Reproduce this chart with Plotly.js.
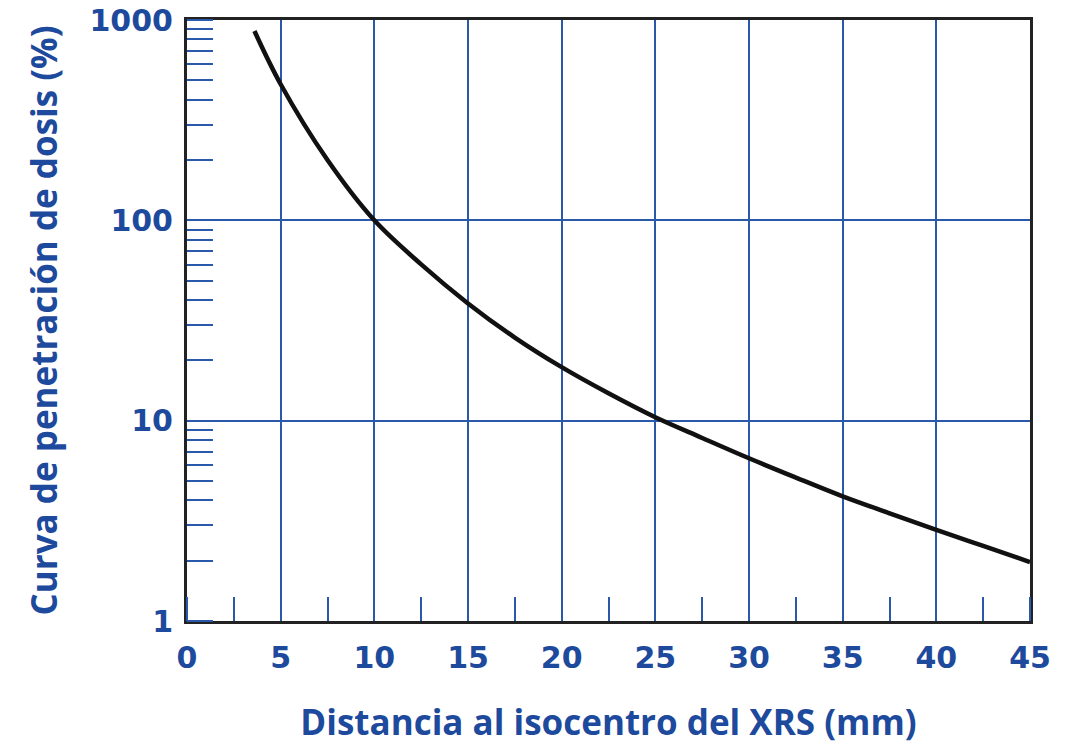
<!DOCTYPE html>
<html>
<head>
<meta charset="utf-8">
<script src="https://cdn.plot.ly/plotly-3.0.1.min.js"></script>
<style>html,body{margin:0;padding:0;background:#fff;}#chart{width:1079px;height:745px;}</style>
</head>
<body>
<div id="chart"></div>
<script>
const distance_mm = [3.6, 5, 7.5, 10, 12.5, 15, 17.5, 20, 22.5, 25, 27.5, 30, 32.5, 35, 37.5, 40, 42.5, 45];
const dose_pct = [881, 478, 200, 100, 60.3, 38.5, 26.0, 18.5, 13.7, 10.4, 8.2, 6.49, 5.2, 4.19, 3.45, 2.85, 2.37, 1.97];
const xTickVals = [0, 5, 10, 15, 20, 25, 30, 35, 40, 45];
const yTickVals = [1, 10, 100, 1000];
const yTickText = ["1", "10", "100", "1000"];

const blue = "#1d4a9c";
const gridBlue = "#2a58aa";
const titleFont = "Open Sans, Noto Sans, sans-serif";
const tickFont = "DejaVu Sans, sans-serif";

const trace = {
  x: distance_mm,
  y: dose_pct,
  type: "scatter",
  mode: "lines",
  line: {color: "#111111", width: 4.5, shape: "spline", smoothing: 1},
  hoverinfo: "x+y"
};

const layout = {
  width: 1079,
  height: 745,
  margin: {l: 187, r: 49, t: 20, b: 124},
  paper_bgcolor: "#ffffff",
  plot_bgcolor: "#ffffff",
  showlegend: false,
  font: {family: titleFont, color: blue},
  xaxis: {
    range: [0, 45],
    tickvals: xTickVals,
    ticks: "",
    ticklabelstandoff: 8,
    tickfont: {family: tickFont, size: 30, color: blue, weight: "bold"},
    showgrid: true,
    gridcolor: gridBlue,
    gridwidth: 2,
    zeroline: false,
    showline: true,
    linecolor: "#222222",
    linewidth: 3,
    mirror: true,
    minor: {dtick: 2.5, ticks: "inside", ticklen: 24, tickwidth: 2, tickcolor: gridBlue, showgrid: false},
    title: {text: "Distancia al isocentro del XRS (mm)", standoff: 38, font: {family: titleFont, size: 35, color: blue, weight: "bold"}}
  },
  yaxis: {
    type: "log",
    range: [0, 3.0002],
    tickvals: yTickVals,
    ticktext: yTickText,
    ticks: "",
    ticklabelstandoff: 5,
    tickfont: {family: tickFont, size: 30, color: blue, weight: "bold"},
    showgrid: true,
    gridcolor: gridBlue,
    gridwidth: 2,
    zeroline: false,
    showline: true,
    linecolor: "#222222",
    linewidth: 3,
    mirror: true,
    minor: {dtick: "D1", ticks: "inside", ticklen: 26, tickwidth: 2, tickcolor: gridBlue, showgrid: false},
    title: {text: "Curva de penetración de dosis (%)", standoff: 22, font: {family: titleFont, size: 35, color: blue, weight: "bold"}}
  }
};

Plotly.newPlot("chart", [trace], layout, {displayModeBar: false, staticPlot: true});
</script>
</body>
</html>
